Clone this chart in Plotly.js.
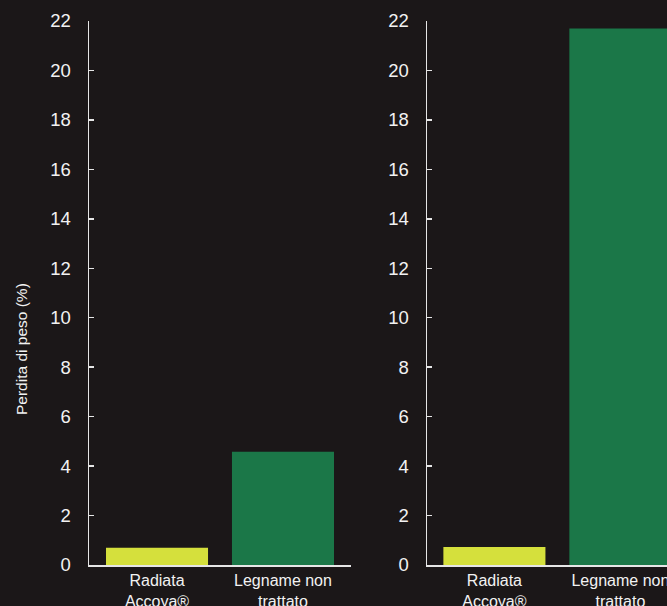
<!DOCTYPE html>
<html><head><meta charset="utf-8">
<script src="https://cdn.plot.ly/plotly-3.0.1.min.js"></script>
<style>html,body{margin:0;padding:0;background:#1b1718;overflow:hidden}</style>
</head><body><div id="chart" style="width:667px;height:606px"></div>
<script>
const categories = ["Radiata<br>Accoya®", "Legname non<br>trattato"];
const leftValues = [0.7, 4.58];
const rightValues = [0.73, 21.7];
const barColors = ["#d5e03c", "#1b7748"];
const yTicks = [0,2,4,6,8,10,12,14,16,18,20,22];
const yTitle = "Perdita di peso (%)";

const axisColor = "#e6e6e6";
const fam = "Liberation Sans, Arial, sans-serif";

const traces = [
  {type: "bar", x: categories, y: leftValues, marker: {color: barColors}, xaxis: "x", yaxis: "y", width: 0.81, hoverinfo: "none"},
  {type: "bar", x: categories, y: rightValues, marker: {color: barColors}, xaxis: "x2", yaxis: "y2", width: 0.81, hoverinfo: "none"}
];

function yax(anchor) {
  return {
    anchor: anchor, domain: [0, 1], range: [0, 22],
    tickvals: yTicks, ticks: "inside", ticklen: 5, tickcolor: axisColor, tickwidth: 1.5,
    showline: true, linecolor: axisColor, linewidth: 1.5,
    showgrid: false, zeroline: false,
    tickfont: {family: fam, size: 18.5, color: "#f2f2f2"},
    ticklabelstandoff: 13
  };
}
function xax(anchor, domain, range) {
  return {
    anchor: anchor, domain: domain, range: range, type: "category",
    showline: true, linecolor: axisColor, linewidth: 1.5,
    ticks: "", showgrid: false, zeroline: false,
    tickfont: {family: fam, size: 16, color: "#f2f2f2"},
    ticklabelstandoff: 0
  };
}

const layout = {
  width: 667, height: 606,
  paper_bgcolor: "#1b1718", plot_bgcolor: "#1b1718",
  margin: {l: 0, r: 0, t: 21, b: 41},
  showlegend: false,
  font: {family: fam, color: "#f2f2f2"},
  xaxis: xax("y", [89/667, 351/667], [-0.54, 1.54]),
  xaxis2: xax("y2", [427/667, 1], [-0.535, 1.37]),
  yaxis: yax("x"),
  yaxis2: yax("x2"),
  annotations: [{
    text: yTitle, xref: "paper", yref: "paper", x: 21/667, y: (606-349-41)/(606-62),
    textangle: -90, showarrow: false, xanchor: "center", yanchor: "middle",
    font: {family: fam, size: 15.5, color: "#f2f2f2"}
  }]
};

Plotly.newPlot("chart", traces, layout, {staticPlot: true, displayModeBar: false});
</script></body></html>
